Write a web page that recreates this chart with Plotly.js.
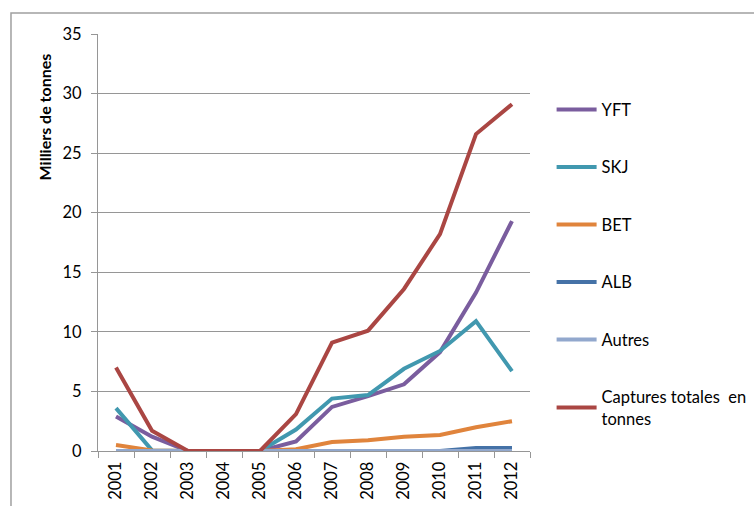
<!DOCTYPE html>
<html>
<head>
<meta charset="utf-8">
<script src="https://cdn.plot.ly/plotly-3.0.1.min.js"></script>
<style>html,body{margin:0;padding:0;background:#fff;overflow:hidden;width:754px;height:506px;}#chart{width:790px;height:506px;}</style>
</head>
<body>
<div id="chart"></div>
<script>
const years = ["2001","2002","2003","2004","2005","2006","2007","2008","2009","2010","2011","2012"];
const yft = [2.9, 1.2, 0, 0, 0, 0.8, 3.7, 4.6, 5.6, 8.3, 13.3, 19.3];
const skj = [3.6, 0.05, 0, 0, 0, 1.8, 4.4, 4.7, 6.9, 8.4, 10.9, 6.7];
const bet = [0.5, 0.05, 0, 0, 0, 0.15, 0.75, 0.9, 1.2, 1.35, 2.0, 2.5];
const alb = [0, 0, 0, 0, 0, 0, 0, 0, 0, 0, 0.25, 0.25];
const autres = [0, 0, 0, 0, 0, 0, 0, 0, 0, 0, 0, 0];
const captures = [7.0, 1.7, 0, 0, 0, 3.1, 9.1, 10.1, 13.6, 18.2, 26.6, 29.1];
const seriesNames = ["YFT", "SKJ", "BET", "ALB", "Autres", "Captures totales  en<br>tonnes"];
const yTitle = "Milliers de tonnes";

const colors = ["#7A5D9E", "#4198AF", "#E0843C", "#4572A7", "#92A8CD", "#AA4643"];
const seriesData = [yft, skj, bet, alb, autres, captures];
const FONT = "Lato, 'Open Sans', sans-serif";

const traces = seriesData.map((d, i) => ({
  type: "scatter", mode: "lines", x: years, y: d, name: seriesNames[i],
  legendgroup: "g" + i,
  line: {color: colors[i], width: 4},
  hoverinfo: "skip"
}));

const grid = "#969696";
const layout = {
  width: 790, height: 506,
  margin: {l: 98, r: 260, t: 34, b: 55, pad: 0},
  paper_bgcolor: "#fff", plot_bgcolor: "#fff",
  font: {family: FONT, size: 16, color: "#000"},
  showlegend: true,
  legend: {
    x: 1.05, xanchor: "left", y: 0.86, yanchor: "top",
    font: {family: FONT, size: 16.5, color: "#000"},
    tracegroupgap: 33, itemwidth: 40,
    bgcolor: "rgba(0,0,0,0)"
  },
  xaxis: {
    type: "category", range: [-0.5, 11.5],
    showline: true, linecolor: grid, linewidth: 1,
    ticks: "outside", ticklen: 6, tickcolor: grid, tickson: "boundaries",
    tickangle: -90, showgrid: false, zeroline: false, ticklabelstandoff: 3,
    tickfont: {family: FONT, size: 16.5, color: "#000"}
  },
  yaxis: {
    range: [0, 35], dtick: 5, tick0: 0,
    showline: true, linecolor: grid, linewidth: 1,
    ticks: "outside", ticklen: 6, tickcolor: grid, ticklabelstandoff: 6,
    showgrid: true, gridcolor: grid, gridwidth: 1, zeroline: false,
    tickfont: {family: FONT, size: 16.5, color: "#000"}
  },
  annotations: [{
    text: "<b>" + yTitle + "</b>", textangle: -90,
    xref: "paper", yref: "paper", x: -0.125, y: 0.80,
    xanchor: "center", yanchor: "middle", showarrow: false,
    font: {family: FONT, size: 16, color: "#000"}
  }],
  shapes: [{
    type: "rect", xref: "paper", yref: "paper",
    x0: -0.2014, x1: 1.7, y0: -0.2, y1: 1.0504,
    line: {color: "#a0a0a0", width: 1.5}, fillcolor: "rgba(0,0,0,0)", layer: "below"
  }]
};

Plotly.newPlot("chart", traces, layout, {staticPlot: true, displayModeBar: false});
</script>
</body>
</html>
